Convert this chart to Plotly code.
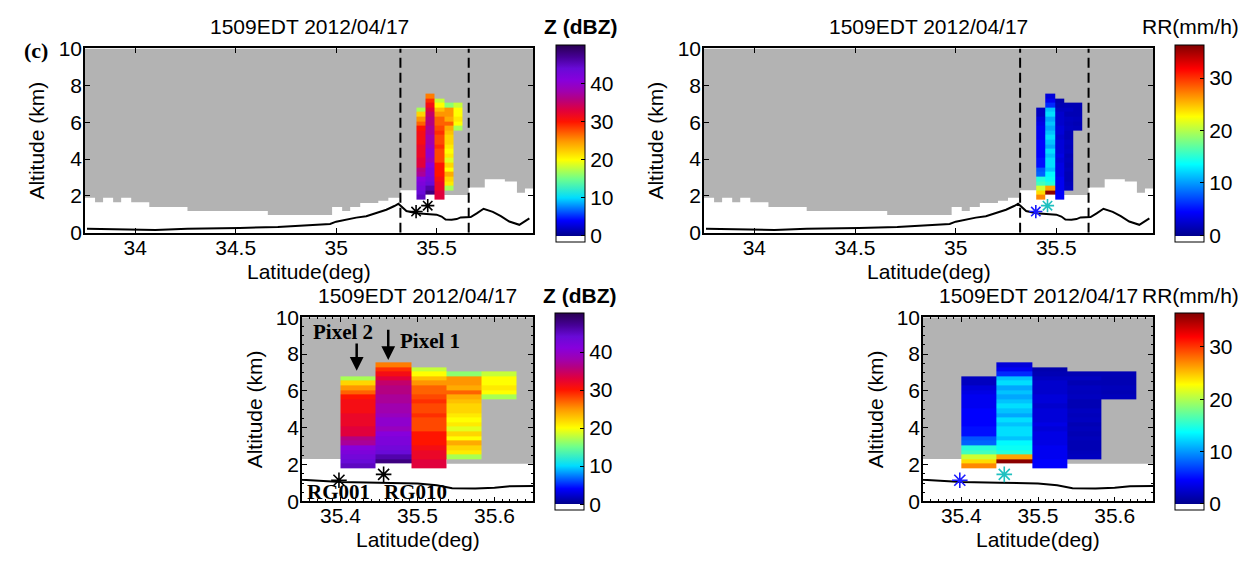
import plotly.graph_objects as go

# ---------------- data ----------------
TIME_LABEL = "1509EDT 2012/04/17"

# radar pixel columns (latitude edges) and altitude bin edges (km)
col_edges = [35.400, 35.4455, 35.492, 35.538, 35.583, 35.628]
alt_edges = [1.80, 2.05, 2.30, 2.55, 2.80, 3.05, 3.30, 3.55, 3.80, 4.05, 4.30, 4.55,
             4.80, 5.05, 5.30, 5.55, 5.80, 6.05, 6.30, 6.55, 6.80, 7.05, 7.30, 7.55]

N = None
# reflectivity (dBZ) per column, bottom -> top
z_col1 = [45, 44, 43, 42, 41, 37, 36, 33, 33, 32, 32, 32, 31, 31, 31, 30, 27, 25, 22, 17, N, N, N]
z_col2 = [N, 48, 46, 44, 43, 42, 42, 41, 39, 40, 40, 39, 38, 38, 37, 37, 36, 36, 35, 33, 31, 29, 26]
z_col3 = [33, 33, 32, 32, 31, 30, 30, 30, 28, 28, 28, 29, 28, 28, 29, 28, 27, 27, 25, 23, 20, 18, N]
z_col4 = [N, N, 17, 21, 22, 24, 20, 22, 19, 21, 20, 21, 22, 22, 23, 24, 27, 24, 25, 25, 16, N, N]
z_col5 = [N, N, N, N, N, N, N, N, N, N, N, N, N, N, N, 17, 20, 21, 20, 20, 18, N, N]

# rain rate (mm/h) per column, bottom -> top
rr_col1 = [27, 24, 21, 16, 15, 8, 7.5, 5, 5, 4.5, 4.5, 4.5, 4.5, 4, 4, 4, 3.5, 3, 2, 2, N, N, N]
rr_col2 = [N, 36, 26, 15, 14, 13.5, 11.5, 12.5, 12.5, 11.5, 12.5, 10.5, 11.5, 12.5, 11.5, 10.5,
           11.5, 10.5, 12.5, 11.5, 6, 4, 3]
rr_col3 = [4.5, 4.5, 4, 4, 4, 3.5, 3.5, 3.5, 3, 3.5, 3, 3, 3, 2.5, 3, 3, 2.5, 2.5, 2.5, 2, 1.5, 1.2, N]
rr_col4 = [N, N, 2, 1.8, 1.5, 1.5, 1.8, 1.5, 1.8, 1.5, 2, 1.8, 2, 1.5, 1.5, 2, 1.8, 2, 1.5, 2, 1.5, N, N]
rr_col5 = [N, N, N, N, N, N, N, N, N, N, N, N, N, N, N, 1.8, 1.5, 1.8, 1.5, 1.5, 1.5, N, N]

# lowest unblocked beam height (grey = no radar coverage above this floor)
beam_lat_start = [33.75, 33.80, 33.84, 33.89, 33.93, 33.98, 34.07, 34.26, 34.66, 34.98, 35.03,
                  35.07, 35.12, 35.21, 35.26, 35.32, 35.538, 35.66, 35.74, 35.84, 35.90, 35.94]
beam_floor = [1.90, 1.65, 1.90, 1.65, 1.90, 1.65, 1.40, 1.18, 0.96, 1.40, 1.18,
              1.40, 1.62, 1.74, 1.90, 2.30, 2.05, 2.45, 2.90, 2.78, 2.17, 2.40]
beam_lat_end = 35.99

# terrain profile
terrain_lat = [33.76, 34.00, 34.10, 34.26, 34.40, 34.52, 34.71, 34.80, 34.91, 34.97, 35.00,
               35.07, 35.10, 35.15, 35.18, 35.21, 35.25, 35.29, 35.31, 35.35, 35.40, 35.45,
               35.50, 35.525, 35.545, 35.575, 35.60, 35.62, 35.645, 35.67, 35.70, 35.734,
               35.78, 35.82, 35.862, 35.912, 35.962]
terrain_alt = [0.21, 0.14, 0.15, 0.21, 0.22, 0.26, 0.31, 0.36, 0.43, 0.48, 0.60,
               0.78, 0.82, 0.90, 1.00, 1.13, 1.25, 1.45, 1.57, 1.18, 1.06, 1.02,
               0.98, 0.88, 0.72, 0.70, 0.74, 0.83, 0.86, 0.85, 1.05, 1.30,
               1.13, 0.90, 0.61, 0.43, 0.78]

# rain gauges
gauge_names = ["RG001", "RG010"]
gauge_lat = [35.398, 35.456]
gauge_alt = [1.15, 1.47]
gauge_rr_colors = ["#1a1aff", "#20c0c0"]

# selected region (dashed lines)
box_lat = [35.32, 35.66]

# axis ticks
top_xticks = [34, 34.5, 35, 35.5]
top_xticklabels = ["34", "34.5", "35", "35.5"]
bot_xticks = [35.4, 35.5, 35.6]
bot_xticklabels = ["35.4", "35.5", "35.6"]
yticks = [0, 2, 4, 6, 8, 10]
z_cbar_ticks = [0, 10, 20, 30, 40]
rr_cbar_ticks = [0, 10, 20, 30]

# ---------------- helpers ----------------
W, H = 1252, 571
FONT = "Liberation Sans, Arial, sans-serif"
SERIF = "Liberation Serif, Times New Roman, serif"
FS = 21


def px(x):
    return x / W


def py(y):
    return 1 - y / H


def scale(stops, vmin, vmax):
    out = []
    for v, c in stops:
        f = (v - vmin) / (vmax - vmin)
        out.append([min(max(f, 0), 1), "rgb(%d,%d,%d)" % c])
    return out


Z_MIN, Z_MAX = -1.6, 50.2
RR_MIN, RR_MAX = -1.2, 36.4
z_scale = scale([(Z_MIN, (255, 255, 255)), (-0.05, (255, 255, 255)), (0, (0, 0, 140)),
                 (4, (0, 0, 255)), (10, (0, 220, 255)), (15, (110, 255, 140)),
                 (20, (255, 255, 0)), (25, (255, 150, 0)), (30, (255, 20, 0)),
                 (33, (225, 0, 60)), (36, (180, 0, 130)), (38, (160, 0, 175)),
                 (41, (135, 0, 220)), (44, (105, 10, 215)), (47, (70, 0, 150)),
                 (Z_MAX, (40, 0, 80))],
                Z_MIN, Z_MAX)
rr_scale = scale([(RR_MIN, (255, 255, 255)), (-0.05, (255, 255, 255)), (0, (0, 0, 143)),
                  (4.55, (0, 0, 255)), (13.65, (0, 255, 255)), (22.75, (255, 255, 0)),
                  (31.85, (255, 0, 0)), (RR_MAX, (128, 0, 0))], RR_MIN, RR_MAX)


def grid(cols):
    # rows = altitude bins, columns = latitude pixels (plain lists, None = no data)
    nrows = len(cols[0])
    return [[cols[j][i] for j in range(len(cols))] for i in range(nrows)]


Zgrid = grid([z_col1, z_col2, z_col3, z_col4, z_col5])
RRgrid = grid([rr_col1, rr_col2, rr_col3, rr_col4, rr_col5])

# grey coverage polygon path (in data coordinates)
pts = []
for i, (x0, h) in enumerate(zip(beam_lat_start, beam_floor)):
    x1 = beam_lat_start[i + 1] if i + 1 < len(beam_lat_start) else beam_lat_end
    pts += [(x0, h), (x1, h)]
pts += [(beam_lat_end, 10), (beam_lat_start[0], 10)]
grey_path = "M " + " L ".join("%.4f,%.3f" % q for q in pts) + " Z"

# panel placement (pixels)
panels = {
    1: dict(x=(85, 533), y=(38, 230), rng=(33.75, 35.98), kind="Z", top=True),
    2: dict(x=(704, 1153), y=(38, 230), rng=(33.75, 35.98), kind="RR", top=True),
    3: dict(x=(302, 533), y=(318, 510), rng=(35.35, 35.65), kind="Z", top=False),
    4: dict(x=(923, 1153), y=(318, 510), rng=(35.35, 35.65), kind="RR", top=False),
}
cbars = {1: (556, 136.5), 2: (1175, 136.5), 3: (555, 416.5), 4: (1175, 416.5)}

fig = go.Figure()
layout = {}
annotations = []
shapes = []

for k, p in panels.items():
    sfx = "" if k == 1 else str(k)
    xa, ya = "x" + sfx, "y" + sfx
    top = p["top"]
    ax_common = dict(showline=True, linecolor="black", linewidth=1.5, mirror="ticks",
                     ticks="inside", ticklen=5, tickwidth=1.2, tickcolor="black",
                     showgrid=False, zeroline=False, layer="above traces",
                     tickfont=dict(family=FONT, size=FS, color="black"))
    xax = dict(ax_common, domain=[px(p["x"][0]), px(p["x"][1])], anchor=ya,
               range=list(p["rng"]), ticklabelstandoff=-5,
               tickvals=top_xticks if top else bot_xticks,
               ticktext=top_xticklabels if top else bot_xticklabels)
    yax = dict(ax_common, domain=[py(p["y"][1]), py(p["y"][0])], anchor=xa,
               range=[0, 10], tickvals=yticks, ticklabelstandoff=-3)
    if not top:
        xax["minor"] = dict(ticks="inside", ticklen=2.5, dtick=0.01, tickcolor="black")
        yax["minor"] = dict(ticks="inside", ticklen=2.5, dtick=0.5, tickcolor="black")
        xax["mirror"] = "allticks"
        yax["mirror"] = "allticks"
    layout["xaxis" + sfx] = xax
    layout["yaxis" + sfx] = yax

    # grey no-coverage area (below the radar pixels)
    shapes.append(dict(type="path", path=grey_path, xref=xa, yref=ya, layer="below",
                       fillcolor="#b3b3b3", line=dict(width=0)))
    # radar pixels
    isz = p["kind"] == "Z"
    cbx, cby = cbars[k]
    fig.add_trace(go.Heatmap(
        x=col_edges, y=alt_edges, z=Zgrid if isz else RRgrid,
        colorscale=z_scale if isz else rr_scale,
        zmin=Z_MIN if isz else RR_MIN, zmax=Z_MAX if isz else RR_MAX,
        xaxis=xa, yaxis=ya, hoverinfo="skip",
        colorbar=dict(x=px(cbx), xanchor="left", y=py(cby), yanchor="middle",
                      len=197, lenmode="pixels", thickness=29, xpad=0, ypad=0,
                      outlinecolor="black", outlinewidth=1,
                      tickvals=z_cbar_ticks if isz else rr_cbar_ticks,
                      ticks="inside", ticklen=4, tickcolor="black",
                      tickfont=dict(family=FONT, size=FS, color="black"))))
    # terrain
    fig.add_trace(go.Scatter(x=terrain_lat, y=terrain_alt, mode="lines",
                             line=dict(color="black", width=2), xaxis=xa, yaxis=ya,
                             hoverinfo="skip", showlegend=False))
    # gauges
    colors = ["black", "black"] if isz else gauge_rr_colors
    fig.add_trace(go.Scatter(x=gauge_lat, y=gauge_alt, mode="markers",
                             marker=dict(symbol="asterisk-open", size=13 if not top else 11,
                                         color=colors,
                                         line=dict(color=colors, width=1.6)),
                             xaxis=xa, yaxis=ya, hoverinfo="skip", showlegend=False))
    if top:
        for bl in box_lat:
            shapes.append(dict(type="line", xref=xa, yref=ya, x0=bl, x1=bl, y0=0, y1=10,
                               line=dict(color="black", width=2, dash="10px,5px")))

    cx = (p["x"][0] + p["x"][1]) / 2
    cy = (p["y"][0] + p["y"][1]) / 2
    ty = 15 if top else 295
    # title
    annotations.append(dict(text=TIME_LABEL, x=px(cx), y=py(ty), xref="paper", yref="paper",
                            showarrow=False, xanchor="center", yanchor="middle",
                            font=dict(family=FONT, size=FS, color="black")))
    # axis titles
    annotations.append(dict(text="Latitude(deg)", x=px(cx), y=py(p["y"][1] + 40),
                            xref="paper", yref="paper", showarrow=False,
                            xanchor="center", yanchor="middle",
                            font=dict(family=FONT, size=FS, color="black")))
    annotations.append(dict(text="Altitude (km)", x=px(p["x"][0] - 48), y=py(cy),
                            xref="paper", yref="paper", showarrow=False, textangle=-90,
                            xanchor="center", yanchor="middle",
                            font=dict(family=FONT, size=FS, color="black")))
    # colorbar title
    if isz:
        annotations.append(dict(text="<b>Z (dBZ)</b>", x=px(cbx + 24), y=py(ty),
                                xref="paper", yref="paper", showarrow=False,
                                xanchor="center", yanchor="middle",
                                font=dict(family=FONT, size=FS, color="black")))
    else:
        annotations.append(dict(text="RR(mm/h)", x=px(cbx + 15), y=py(ty),
                                xref="paper", yref="paper", showarrow=False,
                                xanchor="center", yanchor="middle",
                                font=dict(family=FONT, size=FS, color="black")))

# panel label
annotations.append(dict(text="<b>(c)</b>", x=px(22), y=py(25), xref="paper", yref="paper",
                        showarrow=False, font=dict(family=SERIF, size=22, color="black")))

# bottom-left pixel / gauge annotations
annotations += [
    dict(text="<b>Pixel 2</b>", x=35.403, y=9.22, xref="x3", yref="y3", showarrow=False,
         font=dict(family=SERIF, size=FS, color="black")),
    dict(text="<b>Pixel 1</b>", x=35.516, y=8.70, xref="x3", yref="y3", showarrow=False,
         font=dict(family=SERIF, size=FS, color="black")),
    dict(text="", x=35.421, y=7.10, ax=35.421, ay=8.65, xref="x3", yref="y3",
         axref="x3", ayref="y3", showarrow=True, arrowhead=2, arrowsize=1.1,
         arrowwidth=2.5, arrowcolor="black"),
    dict(text="", x=35.462, y=7.68, ax=35.462, ay=9.40, xref="x3", yref="y3",
         axref="x3", ayref="y3", showarrow=True, arrowhead=2, arrowsize=1.1,
         arrowwidth=2.5, arrowcolor="black"),
]
for name, gl in zip(gauge_names, [35.397, 35.497]):
    annotations.append(dict(text="<b>%s</b>" % name, x=gl, y=0.5, xref="x3", yref="y3",
                            showarrow=False,
                            font=dict(family=SERIF, size=FS, color="black")))

fig.update_layout(width=W, height=H, margin=dict(l=0, r=0, t=0, b=0),
                  paper_bgcolor="white", plot_bgcolor="white",
                  annotations=annotations, shapes=shapes, showlegend=False, **layout)

fig.write_html("out.html")
